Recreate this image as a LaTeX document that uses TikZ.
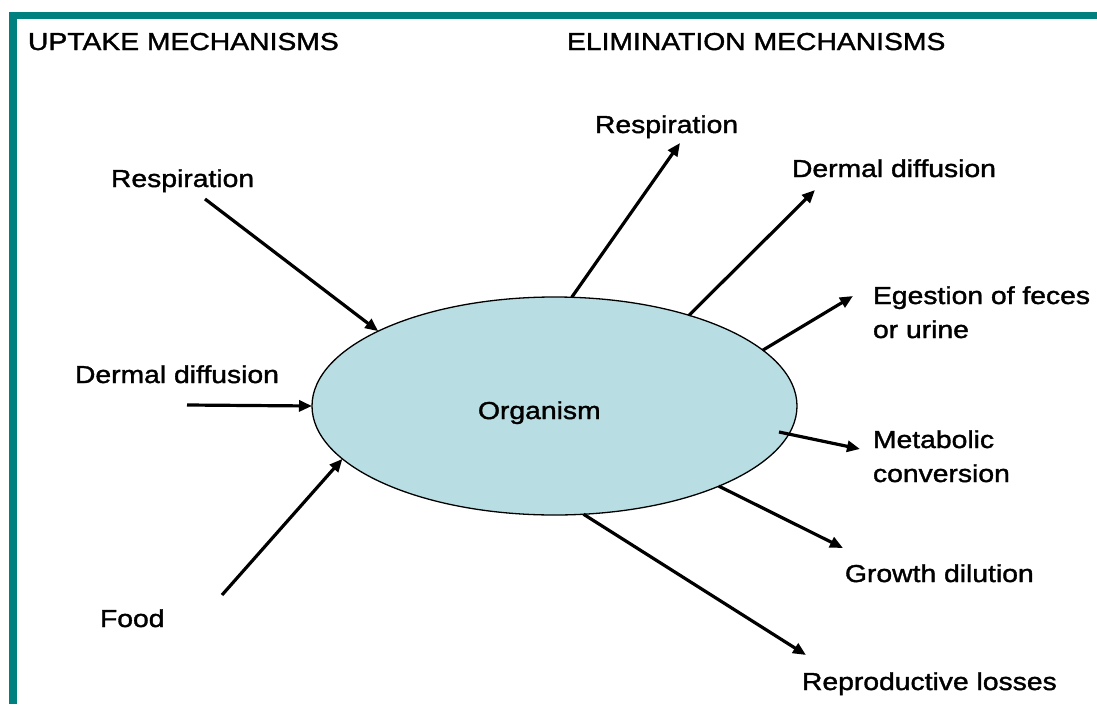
\documentclass[tikz,border=0pt]{standalone}
\usepackage{fontspec}
\setmainfont[FakeStretch=1.155,FakeBold=1.5]{Liberation Sans}
\usetikzlibrary{shapes.geometric,arrows.meta}
\definecolor{frameteal}{RGB}{0,128,126}
\definecolor{orgfill}{RGB}{184,222,227}
\begin{document}
\begin{tikzpicture}[x=1pt,y=-1pt,
  lbl/.style={anchor=base west,inner sep=0pt,outer sep=0pt,align=left,
    font=\fontsize{24.5}{34}\selectfont},
  arr/.style={line width=3.2pt,-{Triangle[length=13pt,width=11pt]}}]
\useasboundingbox (0,0) rectangle (1097,704);
% frame
\fill[frameteal] (9,12) rectangle (1097,19);
\fill[frameteal] (9,12) rectangle (17,704);
% headings
\node[lbl] (uph) at (28,50) {UPTAKE MECHANISMS};
\node[lbl] (elh) at (567,50) {ELIMINATION MECHANISMS};
% organism
\node[ellipse,draw=black,line width=1.3pt,fill=orgfill,minimum width=485pt,
  minimum height=218pt,inner sep=0pt,outer sep=0pt] (org) at (554.5,406) {};
\node[lbl] (orgt) at (478,419) {Organism};
% uptake labels
\node[lbl] (ul1) at (111,187) {Respiration};
\node[lbl] (ul2) at (75,383) {Dermal diffusion};
\node[lbl] (ul3) at (100,627) {Food};
% elimination labels
\node[lbl] (el1) at (595,133) {Respiration};
\node[lbl] (el2) at (792,177) {Dermal diffusion};
\node[lbl] (el3) at (873,338) {Egestion of feces\\or urine};
\node[lbl] (el4) at (873,482) {Metabolic\\conversion};
\node[lbl] (el5) at (845,582) {Growth dilution};
\node[lbl] (el6) at (802,690) {Reproductive losses};
% free ends
\coordinate (ua1) at (205,199);
\coordinate (ua2) at (187,405);
\coordinate (ua3) at (222,595);
\coordinate (ea1) at (680,143);
\coordinate (ea2) at (815,190);
\coordinate (ea3) at (853,296);
\coordinate (em0) at (779,432);
\coordinate (ea4) at (860,449);
\coordinate (ea5) at (843,548);
\coordinate (ea6) at (806,655);
% uptake arrows
\draw[arr] (ua1) -- (org.157.9);
\draw[arr] (ua2) -- (org.west);
\draw[arr] (ua3) -- (org.194.4);
% elimination arrows
\draw[arr] (org.81) -- (ea1);
\draw[arr] (org.34.7) -- (ea2);
\draw[arr] (org.15.1) -- (ea3);
\draw[arr] (em0) -- (ea4);
\draw[arr] (org.-26.9) -- (ea5);
\draw[arr] (org.-75.8) -- (ea6);
\end{tikzpicture}
\end{document}
